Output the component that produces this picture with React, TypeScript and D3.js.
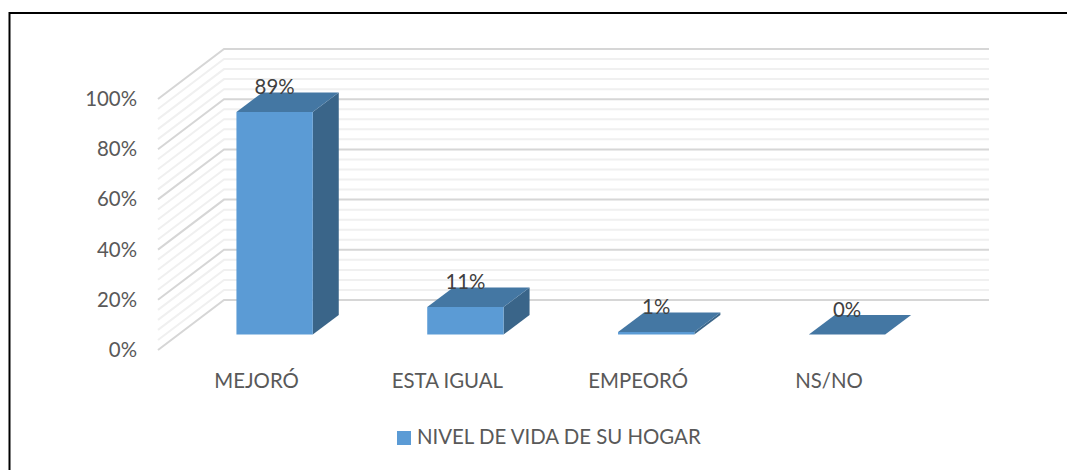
import React from "react";
import * as d3 from "d3";

const categories = ["MEJORÓ", "ESTA IGUAL", "EMPEORÓ", "NS/NO"];
const values = [89, 11, 1, 0];
const valueLabels = ["89%", "11%", "1%", "0%"];
const majorTicks = [0, 20, 40, 60, 80, 100];
const minorTicks = [4, 8, 12, 16, 24, 28, 32, 36, 44, 48, 52, 56, 64, 68, 72, 76, 84, 88, 92, 96];
const seriesName = "NIVEL DE VIDA DE SU HOGAR";

const W = 1067, H = 470;
const FONT = "Lato, 'Open Sans', sans-serif";
const FS = 20.4;

export default function App() {
  const yBack = d3.scaleLinear().domain([0, 100]).range([300, 49]);
  const wallX0 = 224, wallX1 = 989, sideX = 158, sideDy = 50;
  const yFront = d3.scaleLinear().domain([0, 100]).range([334.5, 84.5]);
  const x = d3.scaleBand<string>().domain(categories).range([179.2, 942.4]).paddingInner(0.6).paddingOuter(0.3);
  const dx = 26, dy = 19.5;
  const pts = (a: [number, number][]) => d3.line()(a) + "Z";

  const grid = (t: number, major: boolean) => {
    const y = yBack(t);
    return (
      <path key={t} d={d3.line()([[sideX, y + sideDy], [wallX0, y], [wallX1, y]]) as string}
        fill="none" stroke={major ? "#d6d6d6" : "#f0f0f0"} strokeWidth={2} />
    );
  };

  return (
    <svg width={W} height={H} style={{ position: "absolute", left: 0, top: 0, background: "#fff" }}>
      <path d={`M9.5 ${H + 5}V13H${W + 5}`} fill="none" stroke="#000" strokeWidth={2} />
      {minorTicks.map((t) => grid(t, false))}
      {majorTicks.map((t) => grid(t, true))}
      {majorTicks.map((t) => (
        <text key={t} x={137} y={yBack(t) + sideDy + 7} textAnchor="end" fontFamily={FONT} fontSize={FS} fill="#595959">{t}%</text>
      ))}
      {categories.map((c, i) => {
        const x0 = x(c) as number, x1 = x0 + x.bandwidth();
        const y0 = yFront(0), yT = yFront(values[i]);
        return (
          <g key={c}>
            <path d={pts([[x1, y0], [x1 + dx, y0 - dy], [x1 + dx, yT - dy], [x1, yT]])} fill="#3a6589" />
            <path d={pts([[x0, yT], [x1, yT], [x1 + dx, yT - dy], [x0 + dx, yT - dy]])} fill="#4477a3" />
            <rect x={x0} y={yT} width={x1 - x0} height={y0 - yT} fill="#5b9bd5" />
            <text x={(x0 + x1) / 2} y={yT - 18} textAnchor="middle" fontFamily={FONT} fontSize={FS} fill="#404040">{valueLabels[i]}</text>
            <text x={(x0 + x1) / 2 - 18} y={388} textAnchor="middle" fontFamily={FONT} fontSize={FS} fill="#595959">{c}</text>
          </g>
        );
      })}
      <rect x={397} y={431} width={14} height={14} fill="#5b9bd5" />
      <text x={417} y={444} fontFamily={FONT} fontSize={FS} fill="#595959">{seriesName}</text>
    </svg>
  );
}
